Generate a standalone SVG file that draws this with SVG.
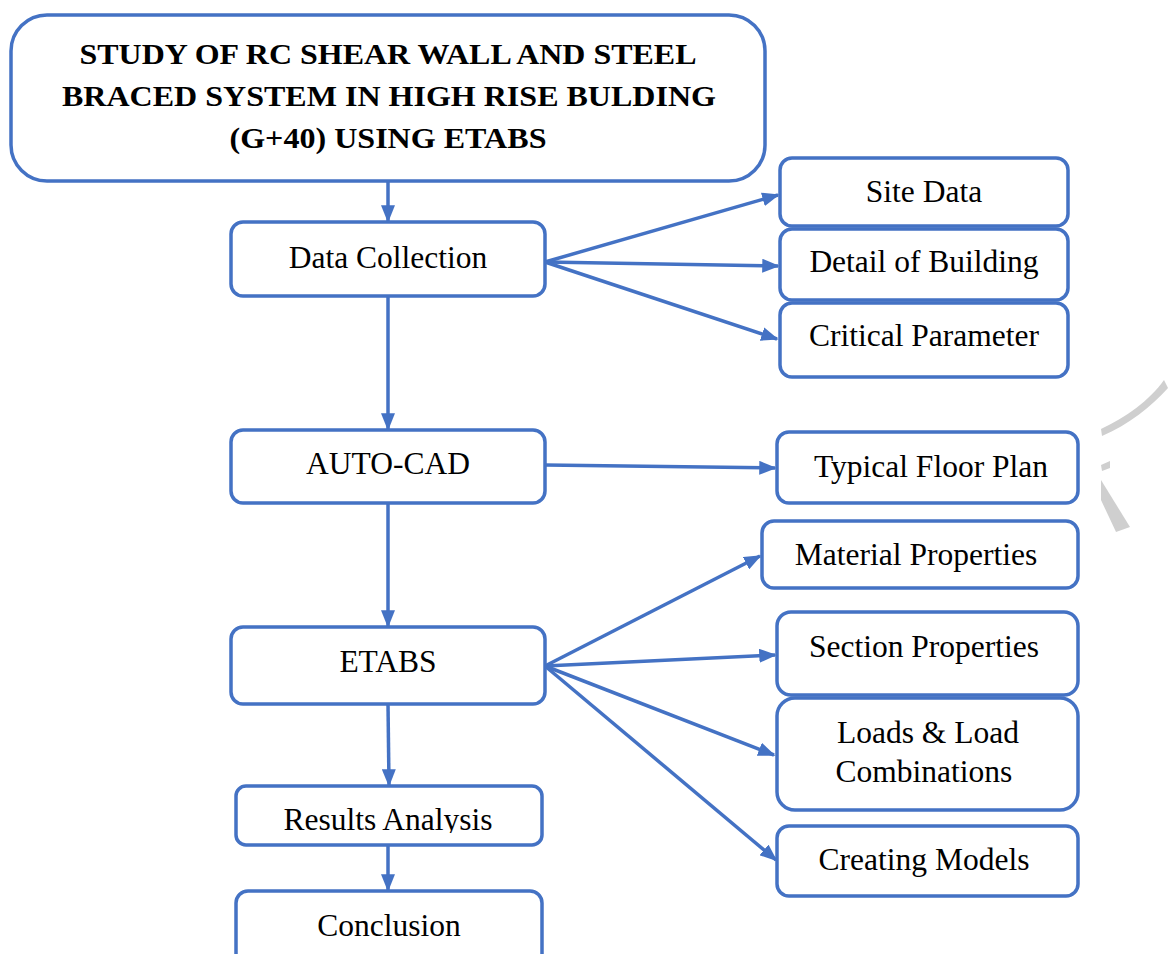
<svg xmlns="http://www.w3.org/2000/svg" width="1169" height="954" viewBox="0 0 1169 954">
<style>
.box{fill:#fff;stroke:#4472C4;stroke-width:3.5}
.t{font-family:"Liberation Serif","Times New Roman",serif;font-size:31.5px;fill:#000;text-anchor:middle}
.title{font-family:"Liberation Serif","Times New Roman",serif;font-size:30px;font-weight:bold;fill:#000;text-anchor:middle}
.c{stroke:#4472C4;stroke-width:3.5;fill:none;marker-end:url(#ah)}
.wm{fill:#cfcfcf;stroke:none}
</style>
<defs>
<marker id="ah" markerWidth="5" markerHeight="4" refX="4.5" refY="2" orient="auto" markerUnits="strokeWidth">
<path d="M0,0 L5,2 L0,4 Z" fill="#4472C4"/>
</marker>
<clipPath id="resclip"><rect x="236" y="786" width="306" height="47"/></clipPath>
</defs>
<rect width="1169" height="954" fill="#fff"/>
<g id="watermark">
<path class="wm" d="M1164,380 C1150,400 1125,418 1101,429 L1102,436 C1128,425 1152,406 1168,388 Z"/>
<path class="wm" d="M1101,465 L1110,461 L1110,468 L1102,471 Z"/>
<path class="wm" d="M1101,480 L1130,527 L1116,532 L1101,500 Z"/>
</g>
<g id="connectors">
<line class="c" x1="388" y1="181" x2="388" y2="221"/>
<line class="c" x1="545" y1="262" x2="778" y2="195"/>
<line class="c" x1="545" y1="262" x2="778" y2="266"/>
<line class="c" x1="545" y1="262" x2="777" y2="339"/>
<line class="c" x1="388" y1="296" x2="388" y2="429"/>
<line class="c" x1="545" y1="465" x2="775" y2="468"/>
<line class="c" x1="388" y1="503" x2="388" y2="626"/>
<line class="c" x1="545" y1="666" x2="760" y2="556"/>
<line class="c" x1="545" y1="666" x2="775" y2="655"/>
<line class="c" x1="545" y1="666" x2="774" y2="755"/>
<line class="c" x1="545" y1="666" x2="776" y2="860"/>
<line class="c" x1="388" y1="704" x2="389" y2="785"/>
<line class="c" x1="388" y1="845" x2="388" y2="890"/>
</g>
<g id="title">
<rect class="box" x="11" y="15" width="754" height="166" rx="36"/>
<text class="title" x="388" y="64" textLength="617" lengthAdjust="spacingAndGlyphs">STUDY OF RC SHEAR WALL AND STEEL</text>
<text class="title" x="389" y="106" textLength="654" lengthAdjust="spacingAndGlyphs">BRACED SYSTEM IN HIGH RISE BULDING</text>
<text class="title" x="388" y="148" textLength="317" lengthAdjust="spacingAndGlyphs">(G+40) USING ETABS</text>
</g>
<g id="data-collection">
<rect class="box" x="231" y="222" width="314" height="74" rx="12"/>
<text class="t" x="388" y="268">Data Collection</text>
</g>
<g id="site-data">
<rect class="box" x="780" y="158" width="288" height="68" rx="12"/>
<text class="t" x="924" y="202">Site Data</text>
</g>
<g id="detail-of-building">
<rect class="box" x="780" y="229" width="288" height="71" rx="12"/>
<text class="t" x="924" y="272">Detail of Building</text>
</g>
<g id="critical-parameter">
<rect class="box" x="780" y="303" width="288" height="74" rx="12"/>
<text class="t" x="924" y="346">Critical Parameter</text>
</g>
<g id="auto-cad">
<rect class="box" x="231" y="430" width="314" height="73" rx="12"/>
<text class="t" x="388" y="474">AUTO-CAD</text>
</g>
<g id="typical-floor-plan">
<rect class="box" x="777" y="432" width="301" height="71" rx="12"/>
<text class="t" x="931" y="477">Typical Floor Plan</text>
</g>
<g id="etabs">
<rect class="box" x="231" y="627" width="314" height="77" rx="12"/>
<text class="t" x="388" y="672">ETABS</text>
</g>
<g id="material-properties">
<rect class="box" x="762" y="521" width="316" height="67" rx="12"/>
<text class="t" x="916" y="565">Material Properties</text>
</g>
<g id="section-properties">
<rect class="box" x="777" y="612" width="301" height="83" rx="14"/>
<text class="t" x="924" y="657">Section Properties</text>
</g>
<g id="loads">
<rect class="box" x="777" y="698" width="301" height="112" rx="18"/>
<text class="t" x="928" y="743">Loads &amp; Load</text>
<text class="t" x="924" y="782">Combinations</text>
</g>
<g id="creating-models">
<rect class="box" x="777" y="826" width="301" height="70" rx="12"/>
<text class="t" x="924" y="870">Creating Models</text>
</g>
<g id="results-analysis">
<rect class="box" x="236" y="786" width="306" height="59" rx="10"/>
<text class="t" x="388" y="830" clip-path="url(#resclip)">Results Analysis</text>
</g>
<g id="conclusion">
<rect class="box" x="236" y="891" width="306" height="75" rx="12"/>
<text class="t" x="389" y="936">Conclusion</text>
</g>
</svg>
